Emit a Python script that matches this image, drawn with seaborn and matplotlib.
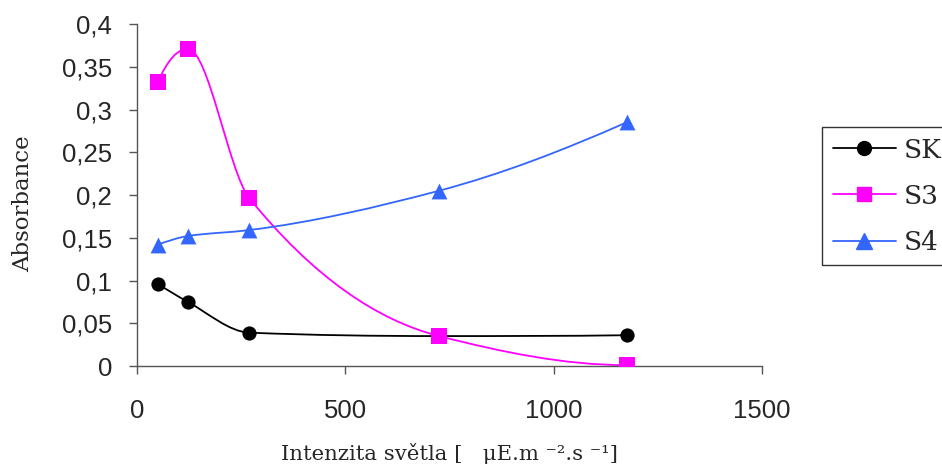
import numpy as np
import matplotlib
matplotlib.use('Agg')
import matplotlib.pyplot as plt
from matplotlib.path import Path
from matplotlib.patches import PathPatch
from matplotlib.lines import Line2D
import seaborn as sns

# intenzita svetla (x) a absorbance jednotlivych vzorku
intenzita = [50, 122, 270, 725, 1175]
sk = [0.096, 0.075, 0.039, 0.035, 0.036]
s3 = [0.332, 0.371, 0.196, 0.035, 0.001]
s4 = [0.142, 0.152, 0.159, 0.205, 0.285]

nazvy = ['SK', 'S3', 'S4']
barvy = ['black', '#FF00FF', '#3366FF']
znacky = ['o', 's', '^']

x_ticks = [0, 500, 1000, 1500]
y_ticks = [0, 0.05, 0.1, 0.15, 0.2, 0.25, 0.3, 0.35, 0.4]
y_labels = ['0', '0,05', '0,1', '0,15', '0,2', '0,25', '0,3', '0,35', '0,4']


def hladka_cesta(xs, ys):
    # vyhlazena cara: bezierovy oblouky, smernice bez prekmitu (pchip)
    x = np.asarray(xs, float)
    y = np.asarray(ys, float)
    h = np.diff(x)
    d = np.diff(y) / h
    n = len(x)
    m = np.zeros(n)
    for i in range(1, n - 1):
        if d[i - 1] * d[i] > 0:
            w1 = 2 * h[i] + h[i - 1]
            w2 = h[i] + 2 * h[i - 1]
            m[i] = (w1 + w2) / (w1 / d[i - 1] + w2 / d[i])
    for i, j, k in [(0, 0, 1), (n - 1, n - 2, n - 3)]:
        hj, hk = h[j], h[k]
        t = ((2 * hj + hk) * d[j] - hj * d[k]) / (hj + hk)
        if np.sign(t) != np.sign(d[j]):
            t = 0
        elif np.sign(d[j]) != np.sign(d[k]) and abs(t) > 3 * abs(d[j]):
            t = 3 * d[j]
        m[i] = t
    verts = [(x[0], y[0])]
    codes = [Path.MOVETO]
    for i in range(n - 1):
        verts += [(x[i] + h[i] / 3, y[i] + m[i] * h[i] / 3),
                  (x[i + 1] - h[i] / 3, y[i + 1] - m[i + 1] * h[i] / 3),
                  (x[i + 1], y[i + 1])]
        codes += [Path.CURVE4] * 3
    return Path(verts, codes)


sns.set_style('ticks')
plt.rcParams['font.family'] = ['Liberation Sans', 'DejaVu Sans']

fig = plt.figure(figsize=(9.42, 4.69), dpi=100)
ax = fig.add_axes([137 / 942, 1 - 366 / 469, 625 / 942, 342 / 469])

serie = [sk, s3, s4]
velikosti = [105, 120, 130]
for y, barva, znacka, s in zip(serie, barvy, znacky, velikosti):
    ax.add_patch(PathPatch(hladka_cesta(intenzita, y), fill=False,
                           edgecolor=barva, lw=1.3, zorder=2))
    sns.scatterplot(x=intenzita, y=y, marker=znacka, s=s, color=barva,
                    edgecolor=barva, linewidth=0, ax=ax, zorder=3)

ax.set_xlim(0, 1500)
ax.set_ylim(0, 0.4)
ax.set_xticks(x_ticks)
ax.set_xticklabels([str(v) for v in x_ticks])
ax.set_yticks(y_ticks)
ax.set_yticklabels(y_labels)
ax.tick_params(axis='both', labelsize=18.5, length=6, width=1, color='#555555',
               direction='out')
ax.tick_params(axis='x', pad=18)
ax.tick_params(axis='y', pad=12)
sns.despine(ax=ax)
for sp in ['left', 'bottom']:
    ax.spines[sp].set_color('#555555')
    ax.spines[sp].set_linewidth(1)

ax.set_xlabel('Intenzita světla [   μE.m ⁻².s ⁻¹]',
              family='DejaVu Serif', fontsize=15.3)
ax.set_ylabel('Absorbance', family='DejaVu Serif', fontsize=16.5)
ax.xaxis.set_label_coords(0.5, -0.225)
ax.yaxis.set_label_coords(-0.165, 0.475)

handles = [Line2D([], [], color=c, marker=m, markersize=ms, lw=1.3)
           for c, m, ms in zip(barvy, znacky, [10, 10.5, 11])]
leg = ax.legend(handles, nazvy, loc='upper left',
                bbox_to_anchor=(822 / 942, 1 - 127 / 469),
                bbox_transform=fig.transFigure, borderaxespad=0,
                frameon=True, fancybox=False, framealpha=1,
                prop={'family': 'DejaVu Serif', 'size': 19},
                handlelength=2.4, handletextpad=0.3, borderpad=0.4,
                labelspacing=0.8)
leg.get_frame().set_edgecolor('#333333')
leg.get_frame().set_linewidth(1)

fig.savefig('out.png', dpi=100)
